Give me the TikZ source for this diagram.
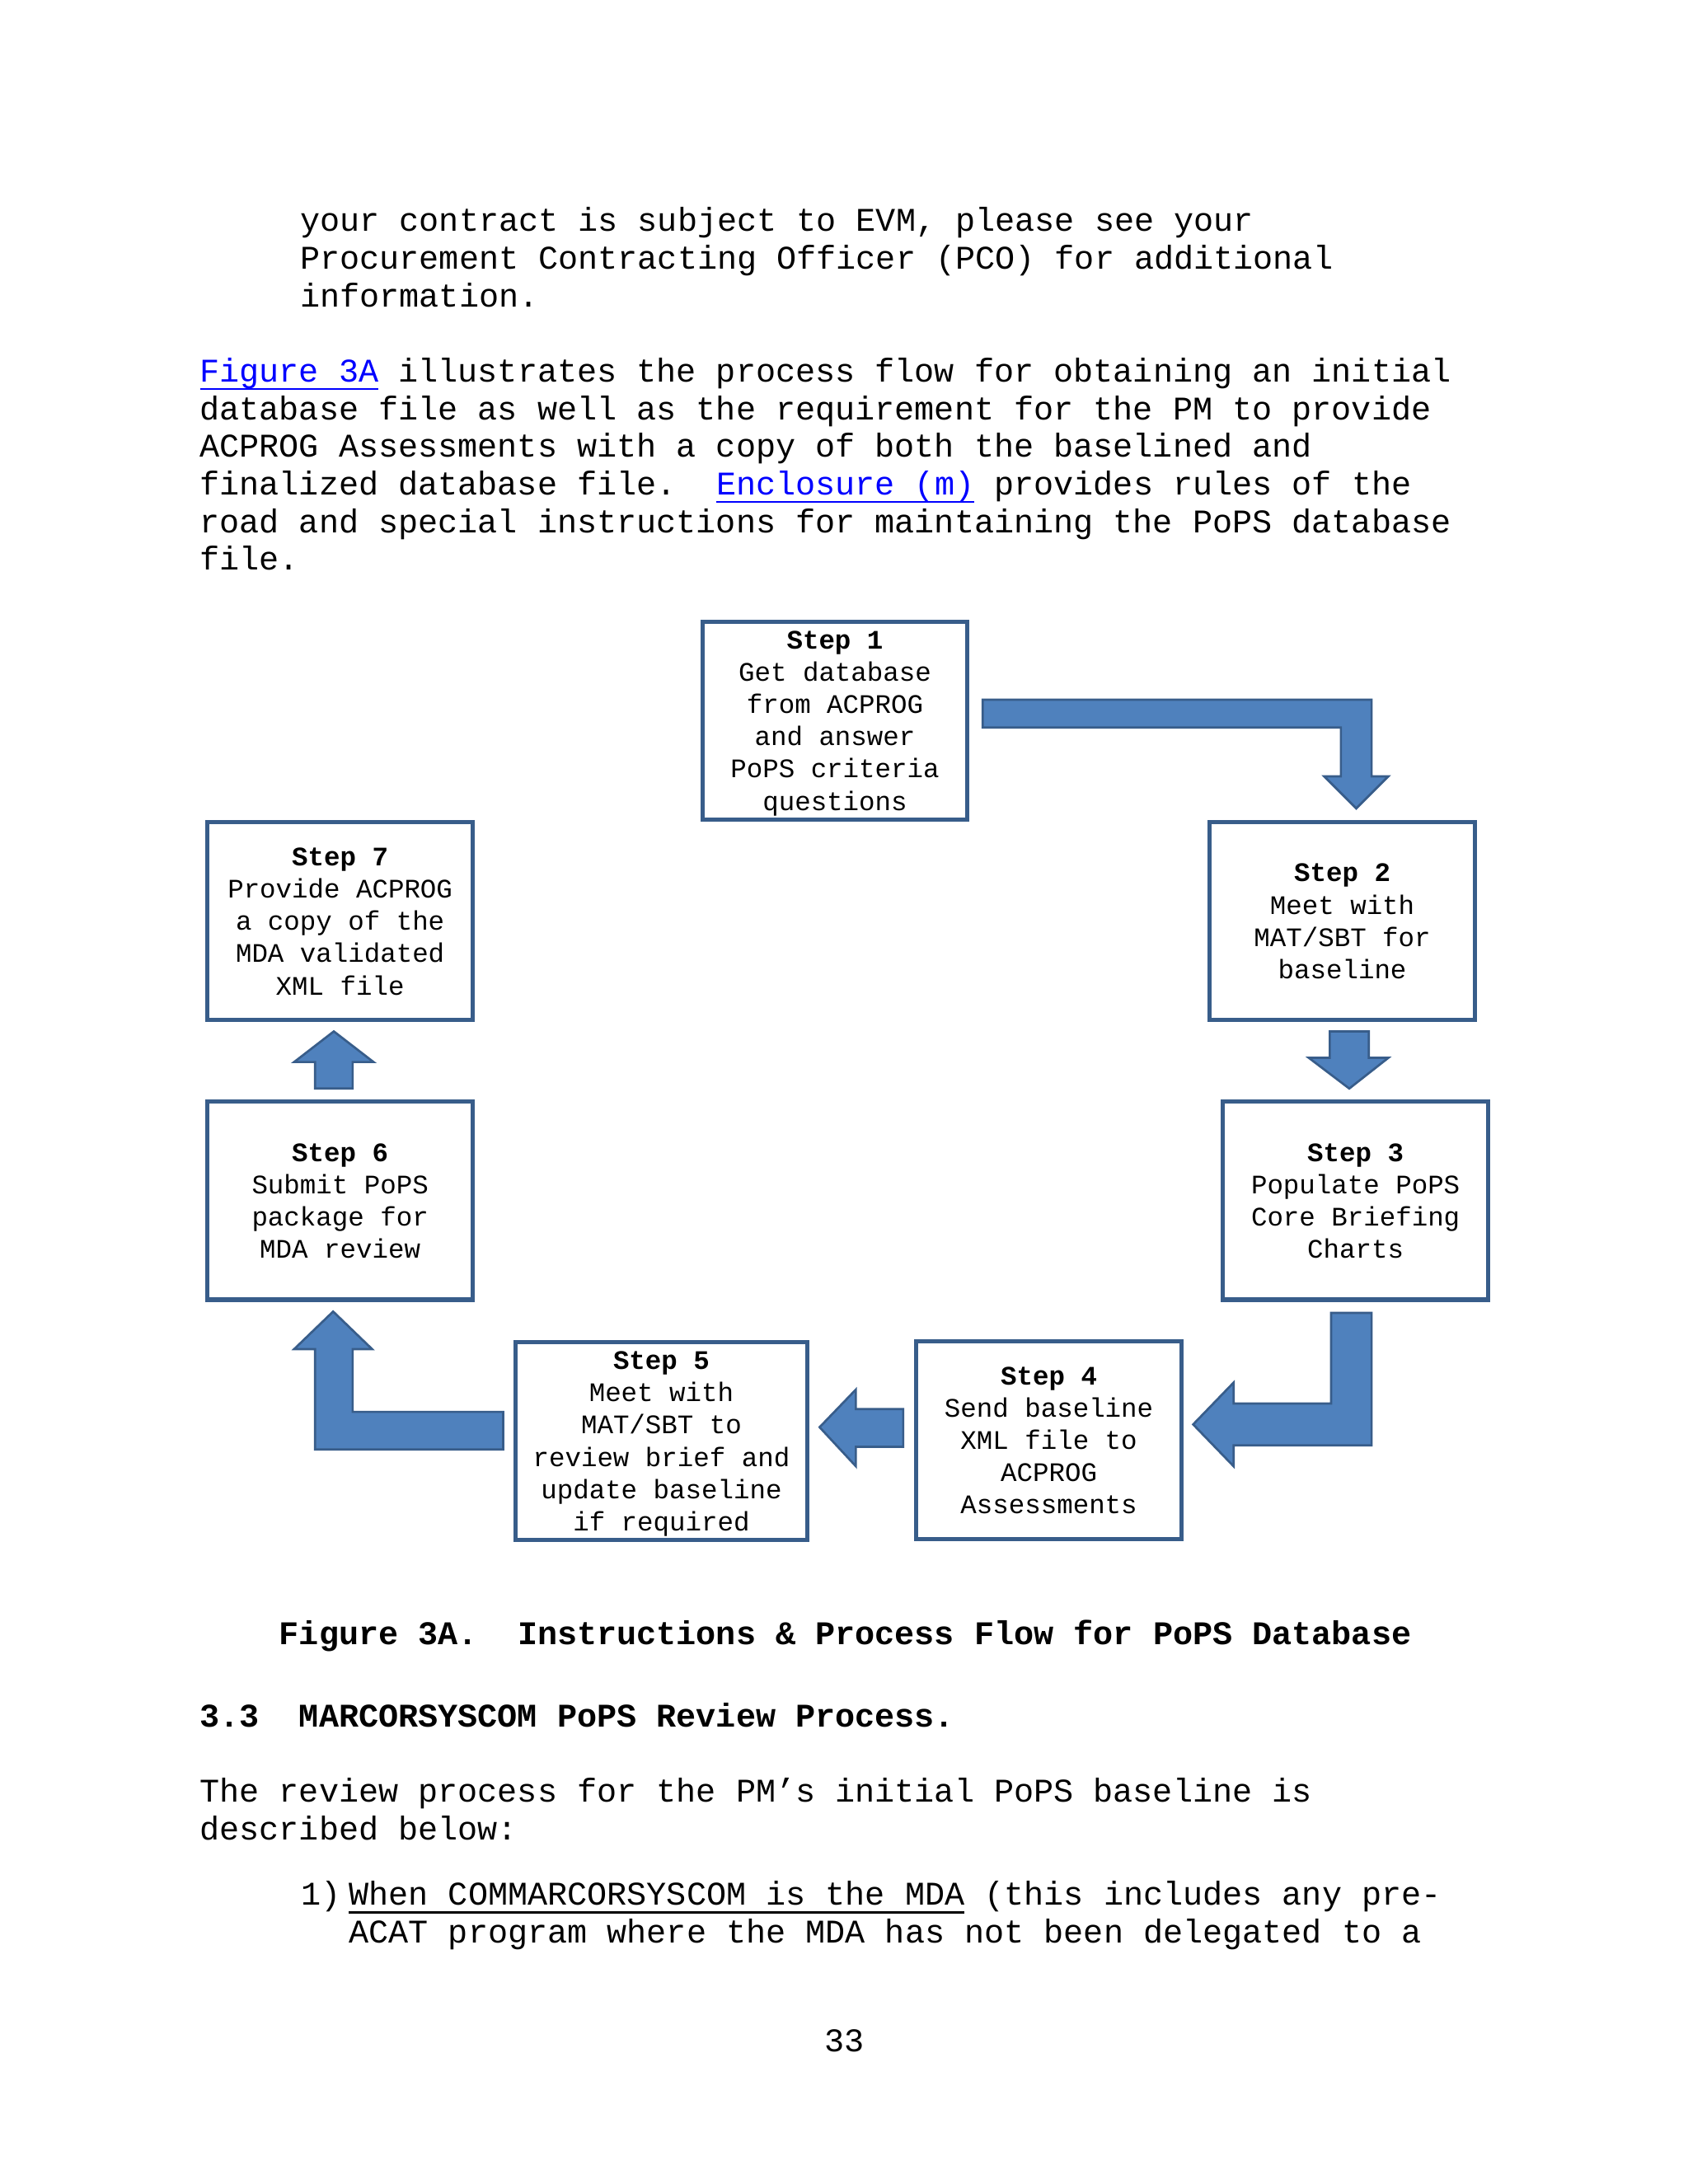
\documentclass[tikz,border=0pt]{standalone}
\usepackage{fontspec}
\setmainfont{Liberation Mono}
\usetikzlibrary{calc}
\definecolor{boxblue}{HTML}{385D8A}
\definecolor{arrowblue}{HTML}{4F81BD}
\definecolor{linkblue}{HTML}{0000FF}
\newcommand\pxu{0.50537pt}
\newcommand\bodyfont{\fontsize{12}{13.6}\selectfont}
\newcommand\stepfont{\fontsize{9.7}{11.7}\selectfont}
\newcommand\undl[1]{\setbox0\hbox{#1}\rlap{\rule[-2.9pt]{\wd0}{0.6pt}}\box0\relax}
\tikzset{
  stepbox/.style={draw=boxblue, line width=1.5pt, fill=white, minimum width=190*\pxu,
    minimum height=142*\pxu, inner sep=0pt, outer sep=0pt, text depth=0pt, align=center, font=\stepfont},
  blockarrow/.style={fill=arrowblue, draw=boxblue, line width=0.8pt, line join=miter},
  textline/.style={anchor=base west, inner sep=0pt, font=\bodyfont}
}
\begin{document}
\frenchspacing
\begin{tikzpicture}[x=0.50537pt, y=-0.50537pt]
\fill[white] (0,0) rectangle (1211,1567);
\useasboundingbox (0,0) rectangle (1211,1567);
\node[textline] (l1) at (215,166) {your contract is subject to EVM, please see your};
\node[textline] (l2) at (215,193) {Procurement Contracting Officer (PCO) for additional};
\node[textline] (l3) at (215,220) {information.};
\node[textline] (p1) at (143,274) {{\color{linkblue}\undl{Figure 3A}} illustrates the process flow for obtaining an initial};
\node[textline] (p2) at (143,301) {database file as well as the requirement for the PM to provide};
\node[textline] (p3) at (143,328) {ACPROG Assessments with a copy of both the baselined and};
\node[textline] (p4) at (143,355) {finalized database file.~ {\color{linkblue}\undl{Enclosure (m)}} provides rules of the};
\node[textline] (p5) at (143,382) {road and special instructions for maintaining the PoPS database};
\node[textline] (p6) at (143,409) {file.};
\node[stepbox] (s1) at (599,517) {\textbf{Step 1}\\Get database\\from ACPROG\\and answer\\PoPS criteria\\questions};
\node[stepbox] (s2) at (963,661) {\textbf{Step 2}\\Meet with\\MAT/SBT for\\baseline};
\node[stepbox] (s3) at (972.5,861.5) {\textbf{Step 3}\\Populate PoPS\\Core Briefing\\Charts};
\node[stepbox] (s4) at (752.5,1033.5) {\textbf{Step 4}\\Send baseline\\XML file to\\ACPROG\\Assessments};
\node[stepbox, minimum width=209*\pxu] (s5) at (474.5,1034) {\textbf{Step 5}\\Meet with\\MAT/SBT to\\review brief and\\update baseline\\if required};
\node[stepbox] (s6) at (244,861.5) {\textbf{Step 6}\\Submit PoPS\\package for\\MDA review};
\node[stepbox] (s7) at (244,661) {\textbf{Step 7}\\Provide ACPROG\\a copy of the\\MDA validated\\XML file};
\draw[blockarrow] ($(s1.east)+(11,-15)$) -- ++(279,0) -- ++(0,55) -- ++(12,0) -- ++(-23,23) -- ++(-23,-23) -- ++(12,0) -- ++(0,-35) -- ++(-257,0) -- cycle;
\draw[blockarrow] ($(s2.south)+(-9,8)$) -- ++(28,0) -- ++(0,19) -- ++(14,0) -- ++(-28,22) -- ++(-29,-22) -- ++(15,0) -- cycle;
\draw[blockarrow] ($(s3.south)+(-17.5,9.5)$) -- ++(29,0) -- ++(0,95) -- ++(-99,0) -- ++(0,15) -- ++(-29,-30) -- ++(29,-30) -- ++(0,15) -- ++(70,0) -- cycle;
\draw[blockarrow] ($(s4.west)+(-9.5,-22.5)$) -- ++(0,27) -- ++(-34,0) -- ++(0,14) -- ++(-26,-28) -- ++(26,-27) -- ++(0,14) -- cycle;
\draw[blockarrow] ($(s5.west)+(-9,-21)$) -- ++(0,27) -- ++(-135,0) -- ++(0,-72) -- ++(-15,0) -- ++(28,-27) -- ++(28,27) -- ++(-14,0) -- ++(0,45) -- cycle;
\draw[blockarrow] ($(s6.north)+(-18,-9.5)$) -- ++(27,0) -- ++(0,-19) -- ++(15,0) -- ++(-28.5,-22) -- ++(-28.5,22) -- ++(15,0) -- cycle;
\node[textline, font=\bodyfont\bfseries] (cap) at (200,1180) {Figure 3A.~ Instructions \& Process Flow for PoPS Database};
\node[textline, font=\bodyfont\bfseries] (hd) at (143,1239) {3.3~ MARCORSYSCOM PoPS Review Process.};
\node[textline] (r1) at (143,1293) {The review process for the PM’s initial PoPS baseline is};
\node[textline] (r2) at (143,1320) {described below:};
\node[textline] (n1) at (215.75,1367) {1)};
\node[textline] (i1) at (250,1367) {\undl{When COMMARCORSYSCOM is the MDA} (this includes any pre-};
\node[textline] (i2) at (250,1394) {ACAT program where the MDA has not been delegated to a};
\node[anchor=base, inner sep=0pt, font=\bodyfont] (pg) at (606,1472) {33};
\end{tikzpicture}
\end{document}
